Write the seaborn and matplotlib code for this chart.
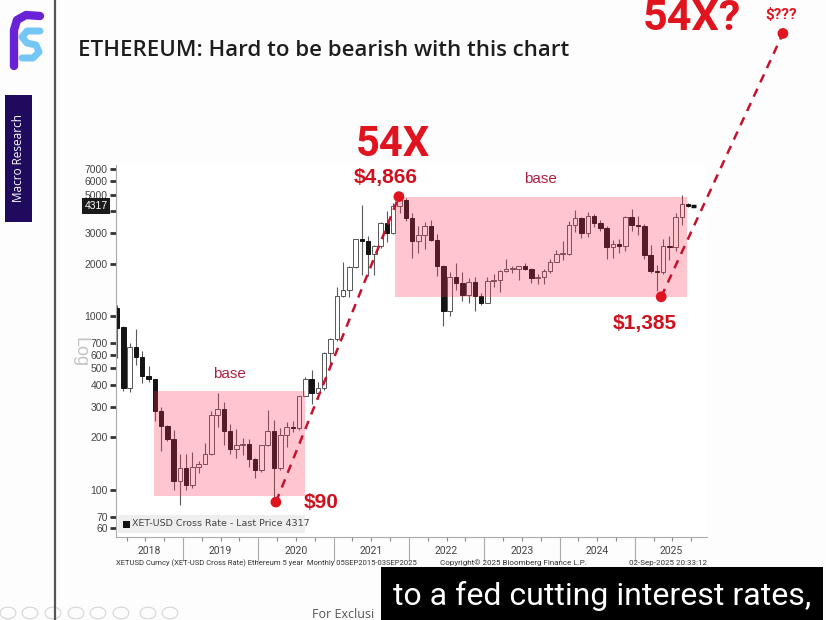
import matplotlib
matplotlib.use("Agg")
import matplotlib.pyplot as plt
from matplotlib.patches import Rectangle
from matplotlib.lines import Line2D
import matplotlib.transforms as mtransforms
import seaborn as sns
import pandas as pd
import numpy as np

# monthly candles, Feb 2018 .. Sep 2025
months = pd.date_range("2018-02-01", "2025-09-01", freq="MS")

opens = [1119, 869, 385, 665, 580, 450, 433, 283, 232, 197, 113,
         133, 107, 136, 141, 160, 268, 290, 218, 172, 180, 183, 151,
         130, 180, 218, 133, 207, 231, 226, 345, 434, 360, 386, 615,
         737, 1312, 1417, 1919, 2773, 2713, 2275, 2531, 3433, 3001, 4288, 4630,
         3683, 2688, 2920, 3282, 2730, 1942, 1067, 1680, 1554, 1328, 1573, 1296,
         1196, 1585, 1605, 1822, 1870, 1874, 1934, 1857, 1645, 1671, 1815, 2052,
         2282, 2283, 3340, 3645, 3014, 3763, 3436, 3232, 2513, 2602, 2518, 3706,
         3332, 3300, 2237, 1822, 1794, 2528, 2486, 3698, 4394]
highs = [1160, 880, 700, 840, 630, 515, 435, 300, 235, 222, 160,
         160, 165, 147, 185, 285, 362, 320, 240, 225, 198, 195, 152,
         180, 287, 253, 227, 245, 250, 345, 445, 488, 415, 622, 750,
         1475, 2040, 1940, 2790, 4380, 2890, 2555, 3470, 4030, 4460, 4866, 4780,
         3900, 3280, 3480, 3580, 2960, 1970, 1785, 2030, 1790, 1660, 1680, 1350,
         1680, 1745, 1845, 2140, 1930, 1935, 2030, 1880, 1750, 1865, 2135, 2410,
         2720, 3520, 4090, 3730, 3980, 3890, 3560, 3290, 2730, 2770, 3740, 4110,
         3740, 3400, 2550, 1955, 2790, 2880, 3940, 4956, 4490]
lows = [574, 368, 365, 520, 410, 420, 250, 167, 190, 100, 82,
        100, 102, 125, 140, 159, 230, 180, 160, 152, 158, 135, 117,
        127, 178, 90, 130, 176, 215, 222, 345, 310, 335, 373, 525,
        715, 1280, 1290, 1900, 1730, 1700, 1720, 2450, 2650, 2970, 3920, 3520,
        2160, 2300, 2440, 2710, 1700, 880, 1000, 1420, 1220, 1190, 1075, 1160,
        1190, 1460, 1370, 1785, 1760, 1620, 1830, 1550, 1530, 1520, 1770, 2040,
        2100, 2260, 3060, 2810, 2860, 3240, 3080, 2120, 2150, 2310, 2360, 3100,
        2920, 2120, 1760, 1385, 1750, 2110, 2370, 3350, 4260]
closes = [855, 385, 665, 580, 450, 433, 283, 232, 197, 113, 133,
          107, 136, 141, 160, 268, 290, 218, 172, 180, 183, 151, 130,
          180, 218, 133, 207, 231, 226, 345, 434, 360, 386, 615, 737,
          1312, 1417, 1919, 2773, 2713, 2275, 2531, 3433, 3001, 4288, 4630, 3683,
          2688, 2920, 3282, 2730, 1942, 1067, 1680, 1554, 1328, 1573, 1296, 1196,
          1585, 1605, 1822, 1870, 1874, 1934, 1857, 1645, 1671, 1815, 2052, 2282,
          2283, 3340, 3645, 3014, 3763, 3436, 3232, 2513, 2602, 2518, 3706, 3332,
          3300, 2237, 1822, 1794, 2528, 2486, 3698, 4394, 4317]

last_price = 4317
ytick_values = [60, 70, 100, 200, 300, 400, 500, 600, 700, 1000, 2000, 3000, 4000, 5000, 6000, 7000]
years = [2018, 2019, 2020, 2021, 2022, 2023, 2024, 2025]

# highlighted pivots: $90 low, $4,866 high, $1,385 low (month index, price)
dot_month = [26.8, 46.4, 88.2]
dot_price = [85, 4866, 1290]
# projected target point (off the chart)
target_month, target_price = 107.6, 42300

# pink "base" zones (month range, price range)
base_zones = [(7.4, 31.4, 92, 371), (45.8, 92.3, 1286, 4830)]

df = pd.DataFrame({"month": months, "open": opens, "high": highs,
                   "low": lows, "close": closes})
df["x"] = (df.month.dt.year - 2018) * 12 + df.month.dt.month - 1 + 0.5
df["up"] = df.close >= df.open

sns.set_theme(style="white")
plt.rcParams["font.family"] = ["Liberation Sans", "DejaVu Sans"]

W, H = 826, 620
fig = plt.figure(figsize=(W / 100, H / 100), dpi=100, facecolor="#fdfdfd")


def fx(x):
    return x / W


def fy(y):
    return 1 - y / H


ax = fig.add_axes([fx(116), fy(537), fx(707) - fx(116), fy(165) - fy(537)])
ax.set_facecolor("white")
ax.set_yscale("log")
ax.set_xlim(1.32, 95.5)
ax.set_ylim(53.5, 7400)

# candles
ax.vlines(df.x, df.low, df.high, color="#5a5a5a", lw=0.8, zorder=1)
bottoms = np.minimum(df.open, df.close)
heights = np.abs(df.close - df.open).clip(lower=bottoms * 0.012)
ax.bar(df.x[df.up], heights[df.up], bottom=bottoms[df.up], width=0.72,
       color="white", edgecolor="#555555", linewidth=0.7, zorder=2)
ax.bar(df.x[~df.up], heights[~df.up], bottom=bottoms[~df.up], width=0.72,
       color="#141414", edgecolor="#141414", linewidth=0.7, zorder=2)

# base zones
for x0, x1, y0, y1 in base_zones:
    ax.add_patch(Rectangle((x0, y0), x1 - x0, y1 - y0, facecolor="#ff3355",
                           alpha=0.28, edgecolor="none", zorder=3))

# last price marker
ax.hlines(last_price, df.x.iloc[-1] + 0.45, df.x.iloc[-1] + 1.3, color="#111111", lw=2.5, zorder=4)

# dashed trend lines and dots
red = "#e0141e"
dred = "#c4122f"
ax.plot([dot_month[0], dot_month[1]], [dot_price[0], dot_price[1]], ls=(0, (3.5, 2.8)),
        color=dred, lw=1.8, zorder=5)
ax.plot([dot_month[2], target_month], [dot_price[2], target_price], ls=(0, (3.5, 2.8)),
        color=dred, lw=1.8, zorder=5, clip_on=False)
sns.scatterplot(x=dot_month + [target_month], y=dot_price + [target_price], color=red,
                s=60, edgecolor="none", zorder=6, clip_on=False, ax=ax, legend=False)

# axes styling
for s in ["top", "right"]:
    ax.spines[s].set_visible(False)
for s in ["left", "bottom"]:
    ax.spines[s].set_color("#aaaaaa")
    ax.spines[s].set_linewidth(0.8)
ax.set_yticks(ytick_values)
ax.set_yticklabels([str(v) if v != 4000 else "" for v in ytick_values])
ax.yaxis.set_minor_locator(matplotlib.ticker.NullLocator())
ax.tick_params(axis="y", which="major", direction="out", length=4, width=2,
               color="#333333", labelsize=7.5, labelcolor="#444444", pad=2, left=True)
year_starts = [(y - 2018) * 12 for y in years[1:]]
ax.set_xticks(year_starts)
ax.set_xticklabels([])
ax.set_xticks([m for m in range(3, 96, 3) if m % 12], minor=True)
ax.tick_params(axis="x", which="major", direction="out", length=17, width=0.8,
               color="#aaaaaa", bottom=True)
ax.tick_params(axis="x", which="minor", direction="out", length=3, width=0.8,
               color="#888888", bottom=True)
ax.grid(False)

narrow = ["Roboto", "DejaVu Sans"]
trans = mtransforms.blended_transform_factory(ax.transData, fig.transFigure)
xl0, xl1 = ax.get_xlim()
for y in years:
    a = max((y - 2018) * 12, xl0)
    b = min((y - 2017) * 12, xl1)
    ax.text((a + b) / 2, fy(551), str(y), transform=trans, ha="center", va="center",
            fontsize=7.5, color="#444444", family=narrow)

fig.text(fx(116), fy(563), "XETUSD Curncy (XET-USD Cross Rate) Ethereum 5 year  Monthly 05SEP2015-03SEP2025",
         fontsize=5.5, color="#333333", va="center", family=narrow)
fig.text(fx(440), fy(563), "Copyright\u00a9 2025 Bloomberg Finance L.P.", fontsize=5.8,
         color="#333333", va="center", family=narrow)
fig.text(fx(707), fy(563), "02-Sep-2025 20:33:12", fontsize=5.8, color="#333333",
         va="center", ha="right", family=narrow)

# legend strip
fig.patches.append(Rectangle((fx(118), fy(533)), fx(305) - fx(118), fy(515) - fy(533),
                             transform=fig.transFigure, facecolor="#eeeeee", edgecolor="none", zorder=3))
fig.patches.append(Rectangle((fx(123), fy(528)), fx(7), fy(521) - fy(528),
                             transform=fig.transFigure, facecolor="#111111", edgecolor="none", zorder=4))
fig.text(fx(132), fy(524), "XET-USD Cross Rate - Last Price 4317", fontsize=6.8,
         color="#444444", va="center", family=["DejaVu Sans"], zorder=5)

# price tag on y axis
fig.text(fx(96), fy(206), "4317", fontsize=7.5, color="white", ha="center", va="center",
         bbox=dict(boxstyle="square,pad=0.25", facecolor="#1a1a1a", edgecolor="none"))

# faded axis mode label
fig.text(fx(80), fy(352), "Log", fontsize=13, color="#c4c4c4", rotation=270,
         ha="center", va="center", zorder=0)

# annotations
bold_cond = ["Roboto", "DejaVu Sans"]
fig.text(fx(393), fy(145), "54X", fontsize=30, weight="bold", color=red,
         ha="center", va="center", family=bold_cond)
fig.text(fx(692), fy(19), "54X?", fontsize=31, weight="bold", color=red,
         ha="center", va="center", family=bold_cond)
fig.text(fx(781), fy(15), "$???", fontsize=11, weight="bold", color=red,
         ha="center", va="center", family=bold_cond)
fig.text(fx(386), fy(178), "$4,866", fontsize=15, weight="bold", color="#d0101c",
         ha="center", va="center")
fig.text(fx(321), fy(503), "$90", fontsize=15, weight="bold", color="#d0101c",
         ha="center", va="center")
fig.text(fx(645), fy(323), "$1,385", fontsize=15, weight="bold", color="#d0101c",
         ha="center", va="center")
fig.text(fx(229), fy(374), "base", fontsize=11, color="#b02040", ha="center", va="center")
fig.text(fx(540), fy(179), "base", fontsize=11, color="#b02040", ha="center", va="center")

# slide title
fig.text(fx(78), fy(50), "ETHEREUM: Hard to be bearish with this chart", fontsize=16,
         weight="semibold", color="#1e1e1e", va="center", family=["Open Sans", "DejaVu Sans"])

# slide decorations
fig.lines.append(Line2D([fx(55), fx(55)], [0, 1], transform=fig.transFigure,
                        color="#555555", lw=1.6))
fig.patches.append(Rectangle((fx(5), fy(222)), fx(27), fy(95) - fy(222),
                             transform=fig.transFigure, facecolor="#1f0a5e", edgecolor="none"))
fig.text(fx(18.5), fy(158), "Macro Research", fontsize=8.5, color="white", rotation=90,
         ha="center", va="center", family=["Open Sans", "DejaVu Sans"])
logo_p = [(14, 66), (14, 30), (17, 20), (26, 15), (40, 16)]
logo_b = [(40, 31), (27, 31), (22, 37), (27, 43), (36, 45), (39, 52), (33, 58), (22, 58)]
fig.lines.append(Line2D([fx(p[0]) for p in logo_p], [fy(p[1]) for p in logo_p],
                        transform=fig.transFigure, color="#6a22d6", lw=6,
                        solid_capstyle="round", solid_joinstyle="round"))
fig.lines.append(Line2D([fx(p[0]) for p in logo_b], [fy(p[1]) for p in logo_b],
                        transform=fig.transFigure, color="#74c6f5", lw=5,
                        solid_capstyle="round", solid_joinstyle="round"))

for cx in [8, 30, 53, 76, 98, 121, 148, 170]:
    fig.patches.append(plt.Circle((fx(cx), fy(613)), 0.0095, transform=fig.transFigure,
                                  facecolor="none", edgecolor="#d5d5d5", lw=0.8))
# footer is mostly hidden behind the caption; only the visible part is drawn
fig.text(fx(312), fy(614), "For Exclusi", fontsize=9,
         color="#555555", va="center", family=["Open Sans", "DejaVu Sans"])

# video caption
fig.patches.append(Rectangle((fx(381), 0), fx(823) - fx(381), fy(567),
                             transform=fig.transFigure, facecolor="black", edgecolor="none", zorder=10))
fig.text(fx(602), fy(596), "to a fed cutting interest rates,", fontsize=23, color="white",
         ha="center", va="center", family=narrow, zorder=11)

fig.savefig("out.png", dpi=100, facecolor=fig.get_facecolor())
